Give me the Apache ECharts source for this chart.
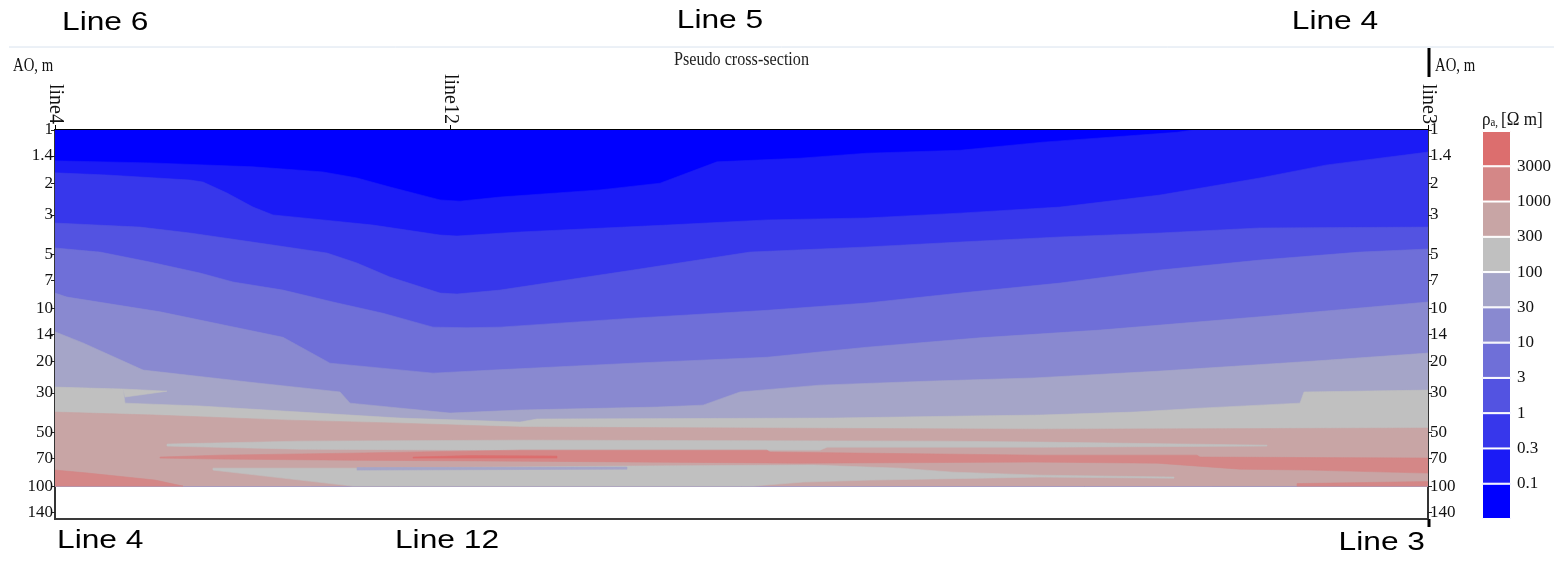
<!DOCTYPE html>
<html>
<head>
<meta charset="utf-8">
<title>Pseudo cross-section</title>
<script src="https://cdn.jsdelivr.net/npm/echarts@6/dist/echarts.min.js"></script>
<style>
  html, body { margin: 0; padding: 0; background: #fff; }
  #chart { width: 1554px; height: 563px; }
</style>
</head>
<body>
<div id="chart"></div>
<script>
// ---- Resistivity classes (Ohm·m) and their fill colours, lowest class first ----
const rhoBreaks = [0.1, 0.3, 1, 3, 10, 30, 100, 300, 1000, 3000];
const bandColors = ['#0000ff', '#1b1bf6', '#3737eb', '#5353e1', '#6f6fd8', '#8989d0',
                    '#a5a5c8', '#c0c0c0', '#c8a5a5', '#d48787', '#dc6e6e'];

// ---- Depth axis (AO, m) ----
const aoTicks = [1, 1.4, 2, 3, 5, 7, 10, 14, 20, 30, 50, 70, 100, 140];
const aoTop = 1;
const aoBottom = 100;   // deepest sounding
const aoMax = 153;      // lower edge of the frame

// ---- Profile (distance along the section, m) ----
const profileStart = 0;
const profileEnd = 1373;
const stationNames = ['line4', 'line12', 'line3'];
const stationX = [0, 395, 1373];
const topCrossings = ['Line 6', 'Line 5', 'Line 4'];
const bottomCrossings = ['Line 4', 'Line 12', 'Line 3'];

// ---- Class boundaries: [distance, AO] along the top of each class ----
const b01 = [[0,1.49],[95,1.53],[198,1.61],[268,1.72],[302,1.86],[335,2.09],[385,2.47],[405,2.51],[445,2.38],
             [545,2.17],[605,1.99],[662,1.51],[745,1.44],[812,1.35],[905,1.30],[988,1.17],[1122,1.03],[1138,1],[1373,1]];
const b02 = [[0,1.74],[52,1.79],[135,1.91],[148,1.96],[172,2.26],[198,2.71],[218,3.00],[268,3.20],[318,3.42],
             [385,3.89],[402,3.94],[465,3.74],[612,3.42],[712,3.20],[812,3.12],[905,2.93],[1005,2.71],
             [1105,2.32],[1205,1.86],[1272,1.57],[1373,1.33]];
const b03 = [[0,3.33],[85,3.51],[135,3.79],[218,4.43],[272,4.91],[302,5.59],[335,6.70],[385,8.24],[402,8.34],
             [445,7.93],[578,6.12],[695,4.85],[812,4.54],[905,4.26],[1005,3.99],[1105,3.79],[1205,3.55],[1373,3.51]];
const b04 = [[0,4.60],[45,4.85],[95,5.52],[145,6.36],[178,7.14],[228,7.93],[278,9.25],[328,10.7],[378,12.8],
             [412,12.9],[445,12.8],[578,11.4],[712,10.3],[812,9.37],[905,8.24],[1005,7.24],[1105,6.12],
             [1205,5.38],[1305,4.85],[1373,4.66]];
const b05 = [[0,8.24],[12,8.68],[105,10.5],[228,14.6],[275,20.4],[378,23.2],[438,22.3],[578,20.4],[712,18.9],
             [812,16.6],[925,14.7],[1045,13.3],[1205,11.2],[1373,9.25]];
const b06 = [[0,13.6],[28,15.7],[88,22.3],[195,26.1],[285,29.6],[295,34.2],[395,38.9],[465,37.4],[602,36.0],
             [648,35.1],[685,29.6],[765,27.1],[878,25.7],[979,24.7],[1105,22.6],[1245,20.1],[1373,17.9]];
const b07 = [[0,27.8],[68,28.5],[70,34.2],[145,35.5],[245,38.4],[345,41.5],[465,43.7],[482,42.0],[778,41.5],
             [912,40.4],[985,39.9],[1079,38.4],[1145,36.5],[1245,34.2],[1249,29.6],[1373,28.9]];
const b08 = [[0,38.4],[100,39.9],[233,42.6],[345,44.3],[465,46.6],[985,47.9],[1373,47.2]];

// ---- Closed lenses inside the deeper classes: [distance, AO] outlines ----
const grayWedge = [[68,28.5],[112,29.3],[70,31.6]];
const grayLensUpper = [[112,58.1],[245,55.9],[465,55.2],[885,55.9],[985,56.6],[1212,58.9],
                       [1212,59.6],[985,60.4],[772,60.4],[765,62.8],[465,62.8],[245,62.0],[112,59.6]];
const redLens = [[105,68.7],[165,67.0],[295,65.3],[465,62.8],[712,62.8],[715,64.4],[985,67.0],[1142,67.0],
                 [1145,68.7],[1373,69.6],[1373,84.5],[1256,81.3],[1185,80.3],[1102,74.3],[979,73.3],
                 [745,74.3],[465,72.4],[295,71.5],[165,70.5],[105,69.6]];
const redStreak = [[358,68.7],[415,67.4],[502,67.8],[502,69.6],[358,69.6]];
const grayLensLower = [[158,79.3],[302,79.3],[572,77.2],[758,76.2],[845,79.3],[898,83.5],[985,86.8],[1119,89.0],
                       [1119,90.2],[985,89.0],[925,90.2],[815,92.5],[748,94.9],[698,100],[298,100],[158,81.3]];
const blueLens = [[302,78.7],[572,78.2],[572,80.3],[302,81.3]];
const redCornerLeft = [[0,81.3],[33,84.5],[100,92.5],[128,100],[0,100]];
const redCornerRight = [[1242,96.8],[1373,94.3],[1373,100],[1242,100]];

// ---- Paint order: each class fills from its top boundary down to the deepest sounding ----
const layers = [];
layers.push({ band: 0, pts: [[profileStart, aoTop], [profileEnd, aoTop], [profileEnd, aoBottom], [profileStart, aoBottom]] });
[b01, b02, b03, b04, b05, b06, b07, b08].forEach((b, i) => {
  const pts = b.slice();
  pts.push([b[b.length - 1][0], aoBottom], [b[0][0], aoBottom]);
  layers.push({ band: i + 1, pts });
  if (i === 6) layers.push({ band: 7, pts: grayWedge });
});
layers.push({ band: 7, pts: grayLensUpper });
layers.push({ band: 9, pts: redLens });
layers.push({ band: 10, pts: redStreak });
layers.push({ band: 7, pts: grayLensLower });
layers.push({ band: 6, pts: blueLens });
layers.push({ band: 9, pts: redCornerLeft });
layers.push({ band: 9, pts: redCornerRight });

const lg = v => Math.log10(v);
const logTicks = aoTicks.map(lg);
const fmtAO = v => {
  const t = aoTicks.find(a => Math.abs(lg(a) - v) < 1e-6);
  return t === undefined ? '' : String(t);
};

// ---- Layout ----
const G = { left: 55, top: 130, width: 1373, height: 389 };
const CB = { left: 1482, top: 131, width: 30, height: 388 };
const serif = 'Liberation Serif, Times New Roman, serif';
const sans = 'Liberation Sans, Arial, sans-serif';

const chart = echarts.init(document.getElementById('chart'), null, { renderer: 'canvas' });

const depthAxis = (pos) => ({
  type: 'value', gridIndex: 0, position: pos, inverse: true,
  min: 0, max: lg(aoMax),
  axisLine: { show: true, onZero: false, lineStyle: { color: '#333', width: 1.5 } },
  axisTick: { show: true, customValues: logTicks, length: 4, lineStyle: { color: '#222', width: 1 } },
  axisLabel: { customValues: logTicks, formatter: fmtAO, margin: 2, fontFamily: serif, fontSize: 17, color: '#111' },
  splitLine: { show: false }
});

const colorbarSeries = bandColors.map((c, i) => ({
  type: 'bar', xAxisIndex: 1, yAxisIndex: 2, stack: 'scale', barWidth: '100%',
  data: [1], silent: true,
  itemStyle: { color: c, borderColor: '#fff', borderWidth: 1 }
}));

chart.setOption({
  animation: false,
  backgroundColor: '#fff',
  grid: [
    { left: G.left, top: G.top, width: G.width, height: G.height, show: true,
      borderColor: '#3a3a3a', borderWidth: 2, backgroundColor: '#fff' },
    { left: CB.left, top: CB.top, width: CB.width, height: CB.height }
  ],
  xAxis: [
    { type: 'value', gridIndex: 0, position: 'top', min: profileStart, max: profileEnd,
      axisLine: { show: true, onZero: false, lineStyle: { color: '#000', width: 2 } },
      axisTick: { show: true, customValues: stationX, length: 5, lineStyle: { color: '#000' } },
      axisLabel: { customValues: stationX, rotate: 90, margin: 6,
        formatter: v => stationNames[stationX.indexOf(v)] || '',
        fontFamily: serif, fontSize: 20, color: '#111' },
      splitLine: { show: false } },
    { type: 'category', gridIndex: 1, data: ['rho'], show: false }
  ],
  yAxis: [
    depthAxis('left'),
    depthAxis('right'),
    { type: 'value', gridIndex: 1, position: 'right', min: 0, max: bandColors.length,
      axisLine: { show: false }, axisTick: { show: false }, splitLine: { show: false },
      axisLabel: { customValues: rhoBreaks.map((r, i) => i + 1), formatter: v => String(rhoBreaks[v - 1]),
        margin: 6, fontFamily: serif, fontSize: 17, color: '#111', padding: [4, 0, 0, 0] } }
  ],
  series: [
    { type: 'custom', xAxisIndex: 0, yAxisIndex: 0, clip: true, silent: true,
      data: layers.map(l => [l.pts[0][0], lg(l.pts[0][1])]),
      renderItem: (params, api) => {
        const layer = layers[params.dataIndex];
        const pts = layer.pts.map(p => api.coord([p[0], lg(p[1])]));
        const col = bandColors[layer.band];
        return { type: 'polygon', shape: { points: pts },
                 style: { fill: col, stroke: col, lineWidth: 0.6 } };
      } }
  ].concat(colorbarSeries),
  graphic: [
    { type: 'line', shape: { x1: 9, y1: 47, x2: 1554, y2: 47 }, style: { stroke: '#d8e2ee', lineWidth: 1 } },
    { type: 'text', x: 62, y: 23, scaleX: 1.22,
      style: { text: topCrossings[0], fontFamily: sans, fontSize: 26, fill: '#000', textAlign: 'left', textVerticalAlign: 'middle' } },
    { type: 'text', x: 720, y: 21, scaleX: 1.22,
      style: { text: topCrossings[1], fontFamily: sans, fontSize: 26, fill: '#000', textAlign: 'center', textVerticalAlign: 'middle' } },
    { type: 'text', x: 1335, y: 22, scaleX: 1.22,
      style: { text: topCrossings[2], fontFamily: sans, fontSize: 26, fill: '#000', textAlign: 'center', textVerticalAlign: 'middle' } },
    { type: 'text', x: 57, y: 541, scaleX: 1.22,
      style: { text: bottomCrossings[0], fontFamily: sans, fontSize: 26, fill: '#000', textAlign: 'left', textVerticalAlign: 'middle' } },
    { type: 'text', x: 447, y: 541, scaleX: 1.22,
      style: { text: bottomCrossings[1], fontFamily: sans, fontSize: 26, fill: '#000', textAlign: 'center', textVerticalAlign: 'middle' } },
    { type: 'text', x: 1425, y: 543, scaleX: 1.22,
      style: { text: bottomCrossings[2], fontFamily: sans, fontSize: 26, fill: '#000', textAlign: 'right', textVerticalAlign: 'middle' } },
    { type: 'text', x: G.left + G.width / 2, y: 60, scaleX: 0.85,
      style: { text: 'Pseudo cross-section', fontFamily: serif, fontSize: 19, fill: '#222', textAlign: 'center', textVerticalAlign: 'middle' } },
    { type: 'text', x: 13, y: 66, scaleX: 0.82,
      style: { text: 'AO, m', fontFamily: serif, fontSize: 18, fill: '#111', textAlign: 'left', textVerticalAlign: 'middle' } },
    { type: 'text', x: G.left + G.width + 7, y: 66, scaleX: 0.82,
      style: { text: 'AO, m', fontFamily: serif, fontSize: 18, fill: '#111', textAlign: 'left', textVerticalAlign: 'middle' } },
    { type: 'line', shape: { x1: G.left + G.width + 1, y1: 48, x2: G.left + G.width + 1, y2: 77 },
      style: { stroke: '#000', lineWidth: 3 } },
    { type: 'line', shape: { x1: G.left + G.width + 1, y1: G.top + G.height, x2: G.left + G.width + 1, y2: G.top + G.height + 8 },
      style: { stroke: '#000', lineWidth: 3 } },
    { type: 'text', x: CB.left, y: 120, scaleX: 0.9,
      style: { text: '{r|ρ}{s|a,} {r|[Ω m]}', fill: '#111', textVerticalAlign: 'middle',
        rich: { r: { fontFamily: serif, fontSize: 19, fill: '#111' },
                s: { fontFamily: serif, fontSize: 12, fill: '#111', padding: [6, 0, 0, 0] } } } }
  ]
});
</script>
</body>
</html>
